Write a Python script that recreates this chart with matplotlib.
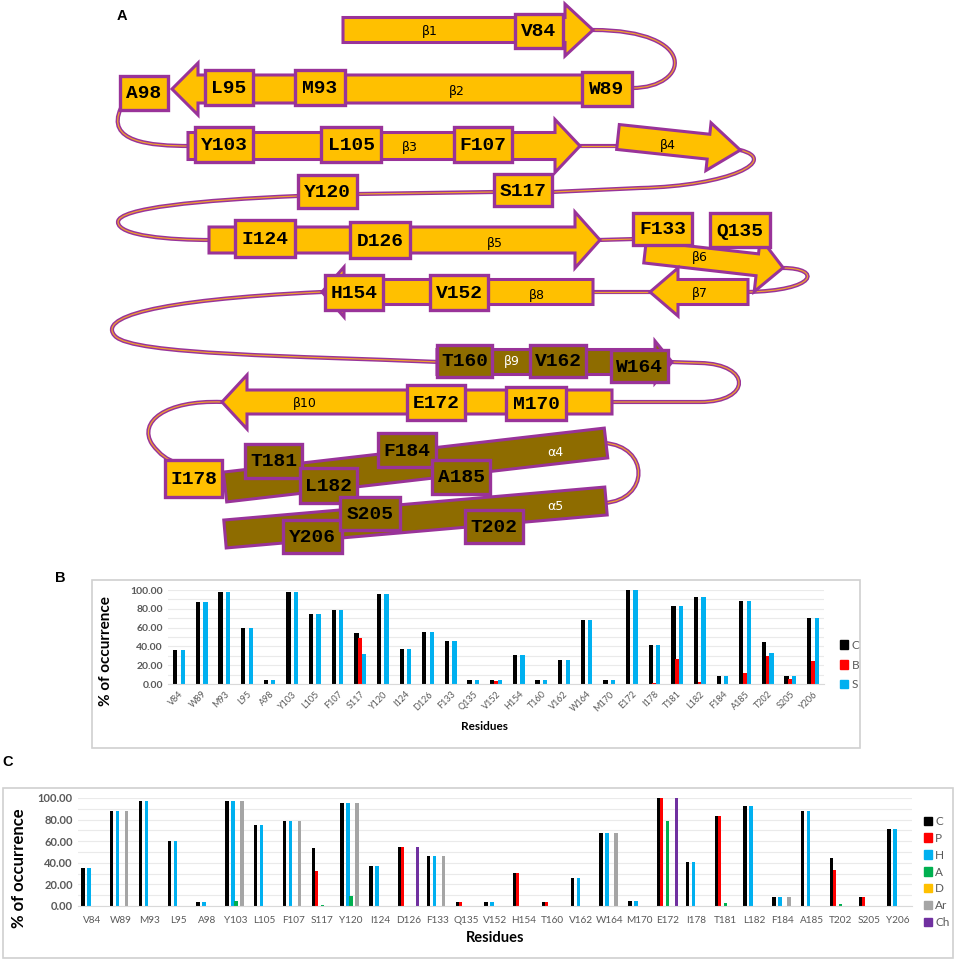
import numpy as np
import matplotlib
matplotlib.use('Agg')
import matplotlib.pyplot as plt
from matplotlib.patches import Polygon, Rectangle, PathPatch, Patch
from matplotlib.path import Path

# residues (x categories of B and C)
residues = ['V84', 'W89', 'M93', 'L95', 'A98', 'Y103', 'L105', 'F107', 'S117', 'Y120',
            'I124', 'D126', 'F133', 'Q135', 'V152', 'H154', 'T160', 'V162', 'W164', 'M170',
            'E172', 'I178', 'T181', 'L182', 'F184', 'A185', 'T202', 'S205', 'Y206']

# panel B: % of occurrence, series C, B, S
b_C = [36, 87, 97.5, 59.6, 3.9, 97.5, 75, 78.7, 54.3, 95.4, 37.6, 55, 46, 3.9, 3.9, 30.5, 3.9,
       25.5, 68, 4.6, 100, 41, 83.3, 92.5, 8, 88.3, 44.3, 8, 70.6]
b_B = [0, 0, 0, 0, 0, 0, 0, 0, 49, 0, 0, 0, 0, 0, 3.2, 0, 0, 0, 0, 0, 0, 1, 27, 2, 0, 11.7,
       29.4, 5.7, 24]
b_S = [36, 87, 97.5, 59.6, 3.9, 97.5, 75, 78.7, 32, 95.4, 37.6, 55, 46, 3.9, 3.9, 30.5, 3.9,
       25.5, 68, 4.6, 100, 41, 83.3, 92.5, 8, 88.3, 32.6, 8, 70.6]

# panel C: series C, P, H, A, D, Ar, Ch
c_C = [35.3, 87.6, 97.2, 59.8, 3.7, 97.2, 75, 78.5, 53.9, 95.4, 37, 55, 46, 3.7, 3.7, 30.3, 3.7,
       25.7, 68, 4.6, 100, 41, 83, 93, 8, 88, 44, 8, 71]
c_P = [0, 0, 0, 0, 0, 0, 0, 0, 32.2, 0, 0, 55, 0, 3.7, 0, 30.3, 3.7, 0, 0, 0, 100, 0, 83, 0, 0,
       0, 33, 8, 0]
c_H = [35.3, 87.6, 97.2, 59.8, 3.7, 97.2, 75, 78.5, 0, 95.4, 37, 0, 46, 0, 3.7, 0, 0, 25.7, 68,
       4.6, 0, 41, 0, 93, 8, 88, 0, 0, 71]
c_A = [0, 0, 0, 0, 0, 4.6, 0, 0, 1.2, 9.6, 0, 0, 0, 0, 0, 0, 0, 0, 0, 0, 79, 0, 2.8, 0, 0, 0,
       1.5, 0, 0]
c_D = [0] * 29
c_Ar = [0, 87.6, 0, 0, 0, 97.2, 0, 78.5, 0, 95.4, 0, 0, 46, 0, 0, 0, 0, 0, 68, 0, 0, 0, 0, 0, 8,
        0, 0, 0, 0]
c_Ch = [0, 0, 0, 0, 0, 0, 0, 0, 0, 0, 0, 55, 0, 0, 0, 0, 0, 0, 0, 0, 100, 0, 0, 0, 0, 0, 0, 0, 0]

YEL = '#FFC000'
BRN = '#8E6C00'
PUR = '#993399'
ORG = '#F0A030'
GREY_TXT = '#595959'

W, H = 957, 960
fig = plt.figure(figsize=(W / 100, H / 100), dpi=100)
ax0 = fig.add_axes([0, 0, 1, 1])
ax0.set_xlim(0, W)
ax0.set_ylim(H, 0)
ax0.axis('off')


def strand(x0, y0, length, body, head, hl, ang=0.0, fc=YEL, z=2):
    pts = np.array([[0, -body / 2], [length - hl, -body / 2], [length - hl, -head / 2],
                    [length, 0], [length - hl, head / 2], [length - hl, body / 2], [0, body / 2]])
    a = np.deg2rad(ang)
    rot = np.array([[np.cos(a), -np.sin(a)], [np.sin(a), np.cos(a)]])
    pts = pts @ rot.T + [x0, y0]
    ax0.add_patch(Polygon(pts, closed=True, fc=fc, ec=PUR, lw=2.2, zorder=z))


def helix(p0, p1, width, z=2):
    p0, p1 = np.array(p0, float), np.array(p1, float)
    d = p1 - p0
    length = np.hypot(*d)
    strand(p0[0], p0[1], length, width, width, 0.001, np.degrees(np.arctan2(d[1], d[0])), BRN, z)


def loop(verts, codes):
    p = Path(verts, codes)
    ax0.add_patch(PathPatch(p, fc='none', ec=PUR, lw=3.0, zorder=1, capstyle='round'))
    ax0.add_patch(PathPatch(p, fc='none', ec=ORG, lw=0.9, zorder=1.1))


M, L, C = Path.MOVETO, Path.LINETO, Path.CURVE4

# loops
loop([(593, 30), (700, 30), (690, 88), (632, 88)], [M, C, C, C])
loop([(121, 108), (105, 142), (150, 146), (190, 146)], [M, C, C, C])
loop([(578, 146), (620, 146)], [M, L])
loop([(740, 150), (780, 160), (730, 186), (640, 188), (552, 192)], [M, C, C, C, L])
loop([(494, 192), (357, 194)], [M, L])
loop([(298, 196), (200, 200), (118, 208), (118, 222), (118, 236), (170, 240), (211, 240)],
     [M, C, C, C, C, C, C])
loop([(598, 240), (635, 239)], [M, L])
loop([(783, 268), (822, 268), (818, 291), (746, 292)], [M, C, C, C])
loop([(652, 292), (591, 292)], [M, L])
loop([(322, 292), (150, 300), (98, 318), (115, 336), (132, 355), (300, 356), (439, 362)],
     [M, C, C, C, C, C, C])
loop([(670, 362), (700, 363), (752, 364), (752, 402), (700, 402), (610, 402)],
     [M, L, C, C, C, L])
loop([(222, 402), (165, 400), (138, 422), (152, 444), (160, 455), (168, 460), (175, 462)],
     [M, C, C, C, C, C, C])
loop([(222, 484), (228, 485)], [M, L])
loop([(604, 443), (650, 446), (650, 500), (604, 503)], [M, C, C, C])

# strands / helices
strand(343, 30, 250, 25, 52, 28)
strand(590, 89, 418, 28, 52, 26, 180)
strand(188, 146, 392, 27, 53, 25)
strand(618, 137, 123, 25, 48, 32, 6.1)
strand(209, 240, 391, 26, 56, 25)
strand(645, 252, 139, 22, 54, 26, 6.5)
strand(748, 292, 98, 25, 48, 28, 180)
strand(593, 292, 271, 25, 50, 22, 180)
strand(437, 362, 235, 25, 42, 17, 0, BRN)
strand(612, 402, 390, 24, 54, 25, 180)
helix((225, 487), (606, 443), 30)
helix((225, 534), (606, 501), 28)

ss_labels = [('β1', 430, 32, 'k'), ('β2', 457, 92, 'k'), ('β3', 410, 148, 'k'),
             ('β4', 668, 146, 'k'), ('β5', 495, 244, 'k'), ('β6', 700, 257, 'k'),
             ('β7', 700, 293, 'k'), ('β8', 537, 295, 'k'), ('β9', 512, 362, 'white'),
             ('β10', 305, 404, 'k'), ('α4', 555, 452, 'white'), ('α5', 555, 506, 'white')]
for t, x, y, col in ss_labels:
    ax0.text(x, y, t, ha='center', va='center', fontsize=9, color=col, zorder=3,
             family=['Liberation Sans Narrow', 'DejaVu Sans'])

# residue boxes: name, x0, y0, x1, y1, fill
boxes = [('V84', 515, 14, 563, 48, YEL), ('L95', 205, 70, 253, 105, YEL),
         ('M93', 295, 70, 345, 105, YEL), ('W89', 582, 72, 632, 106, YEL),
         ('A98', 120, 76, 168, 110, YEL), ('Y103', 195, 127, 253, 162, YEL),
         ('L105', 321, 127, 381, 162, YEL), ('F107', 454, 127, 512, 162, YEL),
         ('Y120', 298, 175, 357, 208, YEL), ('S117', 494, 174, 552, 206, YEL),
         ('I124', 235, 220, 295, 257, YEL), ('D126', 350, 222, 410, 258, YEL),
         ('F133', 633, 213, 692, 245, YEL), ('Q135', 710, 213, 770, 247, YEL),
         ('H154', 325, 275, 383, 310, YEL), ('V152', 430, 275, 488, 310, YEL),
         ('T160', 437, 345, 492, 377, BRN), ('V162', 530, 345, 586, 377, BRN),
         ('W164', 611, 350, 668, 382, BRN), ('E172', 407, 385, 465, 420, YEL),
         ('M170', 506, 387, 566, 420, YEL), ('I178', 165, 460, 222, 497, YEL),
         ('T181', 245, 444, 302, 478, BRN), ('L182', 300, 468, 357, 503, BRN),
         ('F184', 378, 433, 436, 467, BRN), ('A185', 432, 460, 490, 494, BRN),
         ('Y206', 283, 520, 342, 553, BRN), ('S205', 340, 497, 400, 530, BRN),
         ('T202', 465, 510, 523, 543, BRN)]
for i, (name, x0, y0, x1, y1, fc) in enumerate(boxes):
    z = 4 + i * 0.01
    ax0.add_patch(Rectangle((x0, y0), x1 - x0, y1 - y0, fc=fc, ec=PUR, lw=2.4, zorder=z))
    ax0.text((x0 + x1) / 2, (y0 + y1) / 2 + 1, name, ha='center', va='center', fontsize=14,
             fontweight='bold', family='Liberation Mono', color='k', zorder=z + 0.005)

# panel letters
for t, x, y in [('A', 122, 16), ('B', 60, 578), ('C', 8, 762)]:
    ax0.text(x, y, t, ha='center', va='center', fontsize=10.5, fontweight='bold',
             family='Liberation Sans')

# chart frames
ax0.add_patch(Rectangle((92, 580), 768, 168, fc='none', ec='#D0D0D0', lw=1.2))
ax0.add_patch(Rectangle((3, 788), 950, 170, fc='none', ec='#D0D0D0', lw=1.2))


def px_axes(x0, y0, x1, y1):
    a = fig.add_axes([x0 / W, 1 - y1 / H, (x1 - x0) / W, (y1 - y0) / H])
    a.set_facecolor('none')
    return a


def style(ax):
    ax.set_ylim(0, 100)
    ax.set_xlim(-0.5, len(residues) - 0.5)
    ax.set_yticks(np.arange(0, 101, 20))
    ax.set_yticks(np.arange(10, 100, 20), minor=True)
    ax.set_yticklabels(['%.2f' % v for v in np.arange(0, 101, 20)])
    ax.grid(axis='y', which='both', color='#EAEAEA', lw=0.8)
    ax.set_axisbelow(True)
    for s in ['top', 'right', 'left']:
        ax.spines[s].set_visible(False)
    ax.spines['bottom'].set_color('#D9D9D9')
    ax.tick_params(axis='both', which='both', length=0, colors=GREY_TXT)


x = np.arange(len(residues))

# panel B
axB = px_axes(167.7, 590, 824.3, 684)
style(axB)
b_series = [('C', b_C, '#000000'), ('B', b_B, '#FF0000'), ('S', b_S, '#00B0F0')]
for k, (lab, vals, col) in enumerate(b_series):
    axB.bar(x + (k - 1) * 0.165, vals, 0.19, color=col, zorder=2)
axB.set_xticks(x)
axB.set_xticklabels(residues, rotation=45, ha='right', rotation_mode='anchor',
                    fontsize=6.5, family='Lato')
axB.tick_params(axis='x', pad=4)
for t in axB.get_yticklabels():
    t.set_fontsize(7.5)
    t.set_family('Lato')
    t.set_fontweight('bold')
axB.set_ylabel('% of occurrence', fontsize=11, fontweight='bold', family='Lato', labelpad=6)
axB.yaxis.set_label_coords((113 - 167.7) / 656.6, 0.35)
axB.text((485 - 167.7) / 656.6, (684 - 727) / 94, 'Residues',
         transform=axB.transAxes, ha='center', va='center', fontsize=8.5,
         fontweight='bold', family='Lato')
axB.legend([Patch(color=c) for _, _, c in b_series], [s[0] for s in b_series],
           loc='center left', bbox_to_anchor=(834 / W, 1 - 665 / H),
           bbox_transform=fig.transFigure, frameon=False,
           handlelength=0.7, handleheight=0.7, handletextpad=0.3, labelspacing=0.75,
           labelcolor=GREY_TXT, borderpad=0, prop={'family': 'Lato', 'size': 8.5})

# panel C
axC = px_axes(77.6, 798, 912.4, 906)
style(axC)
c_series = [('C', c_C, '#000000'), ('P', c_P, '#FF0000'), ('H', c_H, '#00B0F0'),
            ('A', c_A, '#00B050'), ('D', c_D, '#FFC000'), ('Ar', c_Ar, '#A5A5A5'),
            ('Ch', c_Ch, '#7030A0')]
for k, (lab, vals, col) in enumerate(c_series):
    axC.bar(x + (k - 3) * 0.104, vals, 0.118, color=col, zorder=2)
axC.set_xticks(x)
axC.set_xticklabels(residues, fontsize=7.2, family='Lato')
axC.tick_params(axis='x', pad=7)
for t in axC.get_yticklabels():
    t.set_fontsize(8)
    t.set_family('Lato')
    t.set_fontweight('bold')
axC.set_ylabel('% of occurrence', fontsize=12, fontweight='bold', family='Lato')
axC.yaxis.set_label_coords((27 - 77.6) / 834.8, 0.35)
axC.text((495 - 77.6) / 834.8, (906 - 938) / 108, 'Residues', transform=axC.transAxes,
         ha='center', va='center', fontsize=10.5, fontweight='bold', family='Lato')
axC.legend([Patch(color=c) for _, _, c in c_series], [s[0] for s in c_series],
           loc='center left', bbox_to_anchor=(918 / W, 1 - 872 / H),
           bbox_transform=fig.transFigure, frameon=False,
           handlelength=0.7, handleheight=0.7, handletextpad=0.25, labelspacing=0.5,
           labelcolor=GREY_TXT, borderpad=0, prop={'family': 'Lato', 'size': 8.5})

fig.savefig('out.png', dpi=100)
